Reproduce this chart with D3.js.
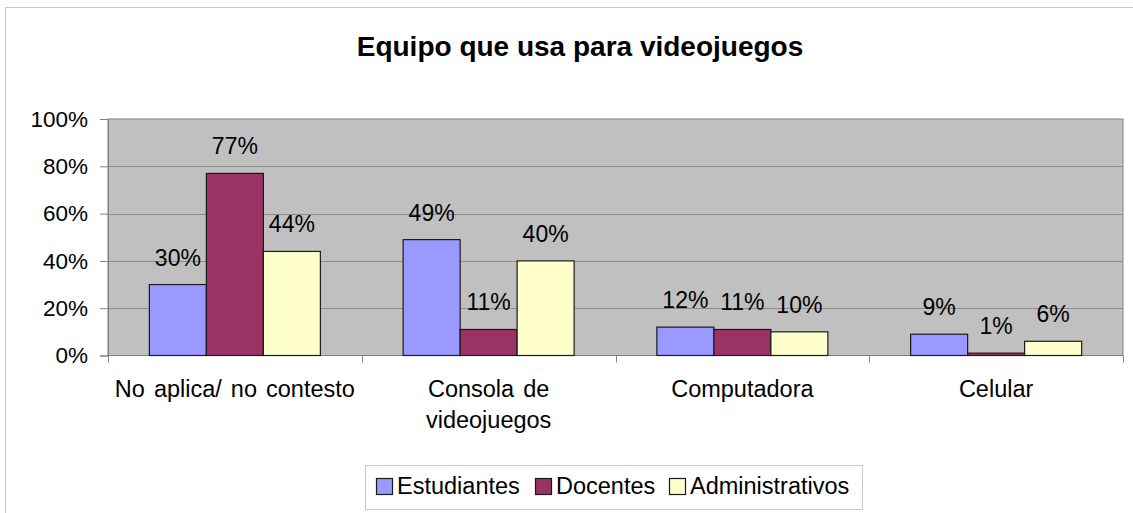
<!DOCTYPE html>
<html>
<head>
<meta charset="utf-8">
<script src="https://cdn.jsdelivr.net/npm/d3@7"></script>
<style>
  html, body { margin: 0; padding: 0; background: #fff; }
  svg { display: block; font-family: Arial, "Liberation Sans", sans-serif; }
</style>
</head>
<body>
<svg id="chart" width="1133" height="513"></svg>
<script>
const title = "Equipo que usa para videojuegos";
const categories = [["No aplica/ no contesto"], ["Consola de", "videojuegos"], ["Computadora"], ["Celular"]];
const seriesNames = ["Estudiantes", "Docentes", "Administrativos"];
const estudiantes = [30, 49, 12, 9];
const docentes = [77, 11, 11, 1];
const administrativos = [44, 40, 10, 6];
const yTicks = [0, 20, 40, 60, 80, 100];
const colors = ["#9999FF", "#993366", "#FFFFCC"];

const series = [estudiantes, docentes, administrativos];

const svg = d3.select("#chart");
const plot = { left: 108, right: 1123, top: 119, bottom: 355.5 };

// outer border (clipped at right/bottom in reference)
svg.append("rect").attr("x", 5.5).attr("y", 7.5).attr("width", 1140).attr("height", 520)
  .attr("fill", "none").attr("stroke", "#C8C8C8").attr("stroke-width", 1);

const x0 = d3.scaleBand().domain(d3.range(categories.length)).range([plot.left, plot.right]).padding(0);
const groupW = 171;
const x1 = d3.scaleBand().domain(d3.range(seriesNames.length))
  .range([(x0.bandwidth() - groupW) / 2, (x0.bandwidth() + groupW) / 2]).padding(0);
const y = d3.scaleLinear().domain([0, 100]).range([plot.bottom, plot.top]);

// plot background
svg.append("rect").attr("x", plot.left).attr("y", plot.top)
  .attr("width", plot.right - plot.left).attr("height", plot.bottom - plot.top)
  .attr("fill", "#C0C0C0").attr("stroke", "#808080").attr("stroke-width", 1);

// gridlines
svg.append("g").selectAll("line").data(yTicks.filter(t => t > 0 && t < 100)).join("line")
  .attr("x1", plot.left).attr("x2", plot.right)
  .attr("y1", d => Math.round(y(d)) + 0.5).attr("y2", d => Math.round(y(d)) + 0.5)
  .attr("stroke", "#8C8C8C").attr("stroke-width", 1);

// y axis
const yAxis = d3.axisLeft(y).tickValues(yTicks).tickFormat(d => d + "%").tickSize(8).tickPadding(12);
const gy = svg.append("g").attr("transform", `translate(${plot.left},0)`).call(yAxis);
gy.select(".domain").attr("stroke", "#808080");
gy.selectAll(".tick line").attr("stroke", "#808080");
gy.selectAll(".tick text").attr("font-size", 22.5).attr("fill", "#000")
  .attr("font-family", "Arial, 'Liberation Sans', sans-serif");

// x axis
const xTickPos = d3.range(categories.length + 1).map(i => plot.left + i * x0.step());
svg.append("line").attr("x1", plot.left).attr("x2", plot.right)
  .attr("y1", plot.bottom).attr("y2", plot.bottom).attr("stroke", "#808080");
svg.append("g").selectAll("line").data(xTickPos).join("line")
  .attr("x1", d => Math.round(d) + 0.5).attr("x2", d => Math.round(d) + 0.5)
  .attr("y1", plot.bottom).attr("y2", plot.bottom + 7).attr("stroke", "#808080");

// category labels
const catG = svg.append("g").selectAll("text").data(categories).join("text")
  .attr("x", (d, i) => x0(i) + x0.bandwidth() / 2)
  .attr("y", 397)
  .attr("text-anchor", "middle").attr("font-size", 23.5).attr("word-spacing", 2.5).attr("fill", "#000");
catG.selectAll("tspan").data(d => d).join("tspan")
  .attr("x", function () { return d3.select(this.parentNode).attr("x"); })
  .attr("dy", (d, i) => i === 0 ? 0 : 31)
  .text(d => d);

// bars
const groups = svg.append("g").selectAll("g").data(categories).join("g")
  .attr("transform", (d, i) => `translate(${x0(i)},0)`);

groups.selectAll("rect").data((d, i) => series.map((s, k) => ({ k, v: s[i] }))).join("rect")
  .attr("x", d => x1(d.k))
  .attr("y", d => y(d.v))
  .attr("width", x1.bandwidth())
  .attr("height", d => y(0) - y(d.v))
  .attr("fill", d => colors[d.k])
  .attr("stroke", "#1a1a1a").attr("stroke-width", 1.2);

groups.selectAll("text").data((d, i) => series.map((s, k) => ({ k, v: s[i] }))).join("text")
  .attr("x", d => x1(d.k) + x1.bandwidth() / 2)
  .attr("y", d => y(d.v) - 19)
  .attr("text-anchor", "middle").attr("font-size", 23).attr("fill", "#000")
  .text(d => d.v + "%");

// title
svg.append("text").attr("x", 580).attr("y", 56).attr("text-anchor", "middle")
  .attr("font-size", 28).attr("font-weight", "bold").attr("fill", "#000").text(title);

// legend
const legend = svg.append("g");
legend.append("rect").attr("x", 365.5).attr("y", 465.5).attr("width", 497).attr("height", 44)
  .attr("fill", "#fff").attr("stroke", "#C8C8C8");
const legX = [376, 535, 669];
const items = legend.selectAll("g").data(seriesNames).join("g")
  .attr("transform", (d, i) => `translate(${legX[i]},0)`);
items.append("rect").attr("x", 0.5).attr("y", 478.5).attr("width", 16).attr("height", 16)
  .attr("fill", (d, i) => colors[i]).attr("stroke", "#1a1a1a").attr("stroke-width", 1.2);
items.append("text").attr("x", 21).attr("y", 494).attr("font-size", 23.5).attr("fill", "#000").text(d => d);
</script>
</body>
</html>
